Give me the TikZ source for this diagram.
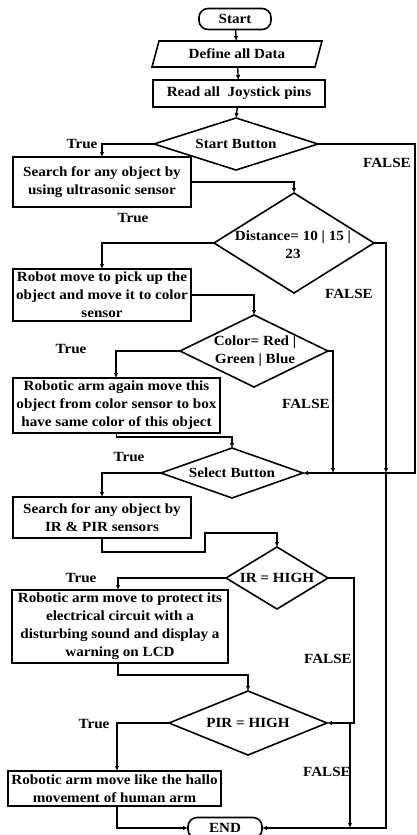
\documentclass[tikz,border=0pt]{standalone}
\usepackage{fontspec}
\setmainfont{Liberation Serif}[FakeStretch=1.08]
\usetikzlibrary{shapes.geometric,arrows.meta}
\begin{document}
\begin{tikzpicture}[x=1pt,y=-1pt,
  font=\fontsize{14}{18}\selectfont\bfseries,
  every node/.style={inner sep=0pt,outer sep=0pt},
  term/.style={draw,line width=1.6pt,rounded corners=9pt,minimum width=#1,minimum height=21pt},
  proc/.style={draw,line width=1.6pt,align=center},
  dec/.style={draw,diamond,line width=1.6pt},
  txt/.style={align=center},
  flow/.style={line width=1.4pt,-{Latex[length=5pt,width=4.5pt]}},
]
\useasboundingbox (0,0) rectangle (417,835);

% terminals, input and processing boxes
\node[term=72pt] (start) at (235,19) {Start};
\node[minimum width=170pt,minimum height=26pt] (data) at (237,54) {Define all Data};
\draw[line width=1.6pt] (data.south west) -- ([xshift=7pt]data.north west)
  -- (data.north east) -- ([xshift=-7pt]data.south east) -- cycle;
\node[proc,minimum width=172pt,minimum height=27pt] (read) at (239,93.5) {Read all\ \ Joystick pins};

\node[dec,minimum width=164pt,minimum height=52pt] (sb) at (236,144) {};
\node[txt] (sbt) at (236,144) {Start Button};

\node[proc,minimum width=178pt,minimum height=50pt] (b1) at (102,182)
  {Search for any object by\\using ultrasonic sensor};

\node[dec,minimum width=160pt,minimum height=100pt] (dist) at (294,243) {};
\node[txt] (distt) at (293,245) {Distance= 10 | 15 |\\23};

\node[proc,minimum width=178pt,minimum height=52pt] (b2) at (102,295)
  {Robot move to pick up the\\object and move it to color\\sensor};

\node[dec,minimum width=148pt,minimum height=72pt] (col) at (254,351) {};
\node[txt] (colt) at (255,351) {Color= Red |\\Green | Blue};

\node[proc,minimum width=207pt,minimum height=55pt] (b3) at (116.5,405.5)
  {Robotic arm again move this\\object from color sensor to box\\have same color of this object};

\node[dec,minimum width=142pt,minimum height=50pt] (sel) at (232,473) {};
\node[txt] (selt) at (232,473) {Select Button};

\node[proc,minimum width=178pt,minimum height=41pt] (b4) at (102,517.5)
  {Search for any object by\\IR \& PIR sensors};

\node[dec,minimum width=102pt,minimum height=62pt] (ir) at (277,578) {};
\node[txt] (irt) at (277,578) {IR = HIGH};

\node[proc,minimum width=216pt,minimum height=73pt] (b5) at (120,626.5)
  {Robotic arm move to protect its\\electrical circuit with a\\disturbing sound and display a\\warning on LCD};

\node[dec,minimum width=158pt,minimum height=64pt] (pir) at (248,723) {};
\node[txt] (pirt) at (248,723) {PIR = HIGH};

\node[proc,minimum width=213pt,minimum height=35pt] (b6) at (114.5,788.5)
  {Robotic arm move like the hallo\\movement of human arm};

\node[term=74pt] (end) at (225,828) {END};

% junction points on the right-hand return lines
\coordinate (redge) at (415,144);
\coordinate (j1) at (386,473);
\coordinate (j2) at (350,723);

% branch labels
\node (t1) at (82,144) {True};
\node (f1) at (387,163) {FALSE};
\node (t2) at (133,218) {True};
\node (f2) at (349,294) {FALSE};
\node (t3) at (71,349) {True};
\node (f3) at (306,404) {FALSE};
\node (t4) at (129,457) {True};
\node (t5) at (81,578) {True};
\node (f5) at (328,659) {FALSE};
\node (t6) at (94,724) {True};
\node (f6) at (327,772) {FALSE};

% main flow
\draw[flow] (start) -- (data);
\draw[flow] (data) -- (read);
\draw[flow] (read) -- (sb.north);
\draw[flow] (sb.west) -| (b1.north);
\draw[flow] (sb.east) -- (redge) |- (sel.east);
\draw[flow] (b1.east) -| (dist.north);
\draw[flow] (dist.west) -| (b2.north);
\draw[flow] (dist.east) -| (j1);
\draw[flow] (j1) |- (end.east);
\draw[flow] (b2.east) -| (col.north);
\draw[flow] (col.west) -| ([xshift=-0.5pt]b3.north);
\draw[flow] (col.east) -| (333,473);
\draw[flow] (b3.south) -- ++(0,4) -| (sel.north);
\draw[flow] (sel.west) -| (b4.north);
\draw[flow] (b4.south) -- ++(0,14) -- ++(103,0) -- ++(0,-19) -| (ir.north);
\draw[flow] (ir.west) -| ([xshift=-2pt]b5.north);
\draw[flow] (ir.east) -| (354,700) |- (pir.east);
\draw[flow] ([xshift=-2pt]b5.south) -- ++(0,12) -| (pir.north);
\draw[flow] (pir.west) -| ([xshift=2.5pt]b6.north);
\draw[flow] ([xshift=2.5pt]b6.south) |- (end.west);
\draw[flow] (j2) -- (350,828);
\end{tikzpicture}
\end{document}
